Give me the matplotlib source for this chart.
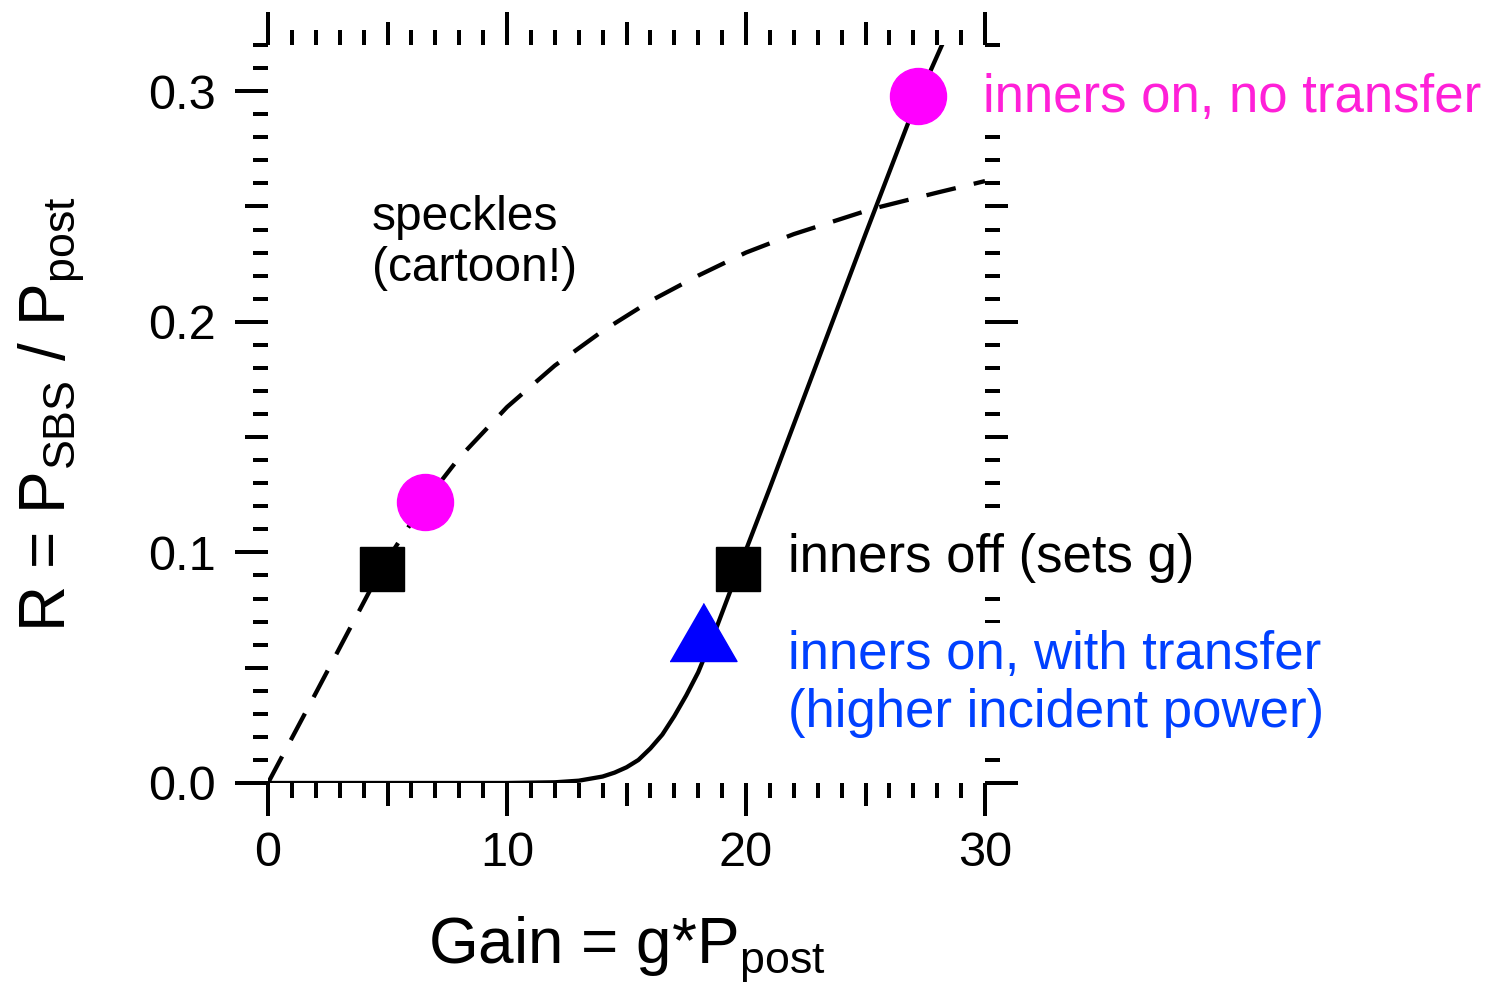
import matplotlib
matplotlib.use("Agg")
import matplotlib.pyplot as plt
import numpy as np

plt.rcParams["font.family"] = ["Liberation Sans", "DejaVu Sans"]
plt.rcParams["mathtext.fontset"] = "custom"
plt.rcParams["mathtext.rm"] = "Liberation Sans"
plt.rcParams["mathtext.it"] = "Liberation Sans:italic"

# solid curve: inners off / on model
solid_x = [0, 10, 12, 13, 14, 14.5, 15, 15.5, 16, 16.5, 17, 17.5, 18, 18.7,
           19.7, 21, 23, 25, 27, 28.2]
solid_y = [0, 0, 0.0003, 0.001, 0.0028, 0.0045, 0.0068, 0.010, 0.015, 0.021,
           0.029, 0.038, 0.048, 0.0656, 0.093, 0.128, 0.183, 0.238, 0.292, 0.320]

# dashed curve: speckles (cartoon!)
dash_x = [0, 2, 4.75, 6.57, 8, 10, 12, 14, 16, 18, 20, 22, 25.3, 28, 30]
dash_y = [0, 0.039, 0.093, 0.122, 0.141, 0.163, 0.181, 0.196, 0.209, 0.220,
          0.230, 0.238, 0.249, 0.256, 0.261]

# markers
square_x = [4.75, 19.67]
square_y = [0.093, 0.093]
circle_x = [6.57, 27.2]
circle_y = [0.122, 0.298]
tri_x = [18.18]
tri_y = [0.0656]

x_ticks = [0, 5, 10, 15, 20, 25, 30]
x_labels = ["0", "", "10", "", "20", "", "30"]
y_ticks = [0.0, 0.05, 0.1, 0.15, 0.2, 0.25, 0.3]
y_labels = ["0.0", "", "0.1", "", "0.2", "", "0.3"]

px = 0.72  # points per pixel at dpi 100
lw = 4 * px
major_len = 33 * px
mid_len = 23 * px
minor_len = 15 * px

fig = plt.figure(figsize=(15.03, 9.84), dpi=100)
ax = fig.add_axes([268 / 1503, 1 - 783 / 984, (985 - 268) / 1503, (783 - 45) / 984])

ax.plot(dash_x, dash_y, color="black", lw=4.3 * px, dashes=(7, 4.3))
ax.plot(solid_x, solid_y, color="black", lw=4.3 * px)

ax.plot(square_x, square_y, ls="none", marker="s", ms=44 * px, color="black")
ax.plot(circle_x, circle_y, ls="none", marker="o", ms=56 * px, color="#ff00ff")
tri = [(-1, -0.866), (1, -0.866), (0, 0.866)]
ax.plot(tri_x, tri_y, ls="none", marker=tri, ms=67 * px, color="#0000ff")

ax.set_xlim(0, 30)
ax.set_ylim(0, 0.32)

for s in ax.spines.values():
    s.set_visible(False)

ax.set_xticks(x_ticks)
ax.set_xticklabels(x_labels)
ax.set_xticks(np.arange(0, 31, 1), minor=True)
ax.set_yticks(y_ticks)
ax.set_yticklabels(y_labels)
ax.set_yticks(np.arange(0, 0.321, 0.01), minor=True)

ax.tick_params(which="both", direction="out", top=True, right=True,
               width=lw, color="black")
ax.tick_params(which="major", length=major_len, labelsize=35)
ax.tick_params(which="minor", length=minor_len)
ax.tick_params(axis="x", which="major", pad=11)
ax.tick_params(axis="y", which="major", pad=14)

# medium ticks at the half-way positions
for t in ax.xaxis.get_major_ticks()[1::2]:
    t.tick1line.set_markersize(mid_len)
    t.tick2line.set_markersize(mid_len)
for t in ax.yaxis.get_major_ticks()[1::2]:
    t.tick1line.set_markersize(mid_len)
    t.tick2line.set_markersize(mid_len)

ax.set_xlabel(r"Gain = g*P$_{\mathrm{post}}$", fontsize=46, labelpad=28)
ax.set_ylabel(r"R = P$_{\mathrm{SBS}}$ / P$_{\mathrm{post}}$", fontsize=46, labelpad=44)

box = dict(facecolor="white", edgecolor="none", pad=5)
ax.text(29.92, 0.297, "inners on, no transfer", color="#ff20d8", fontsize=38,
        va="center", ha="left", bbox=box, zorder=5)
ax.text(4.35, 0.234, "speckles\n(cartoon!)", color="black", fontsize=34.5,
        va="center", ha="left", linespacing=1.17, zorder=5)
ax.text(21.76, 0.0975, "inners off (sets g)", color="black", fontsize=38,
        va="center", ha="left", bbox=box, zorder=5)
ax.text(21.76, 0.0429, "inners on, with transfer\n(higher incident power)",
        color="#0040ff", fontsize=38, va="center", ha="left", linespacing=1.2,
        bbox=box, zorder=5)

fig.savefig("out.png", dpi=100)
